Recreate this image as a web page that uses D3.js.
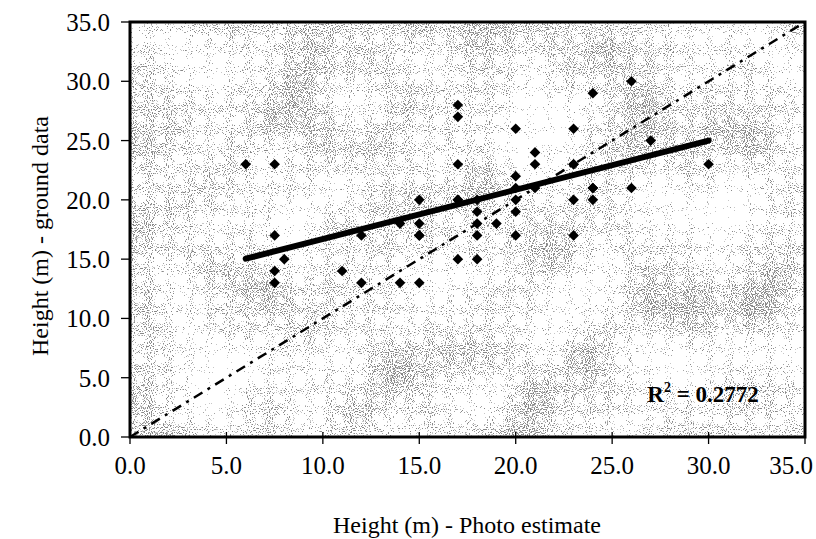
<!DOCTYPE html>
<html><head><meta charset="utf-8">
<script src="https://cdn.jsdelivr.net/npm/d3@7"></script>
<style>body{margin:0;background:#fff;}</style>
</head><body>
<svg id="c" width="816" height="539" font-family="'Liberation Serif', 'Times New Roman', 'DejaVu Serif', serif"></svg>
<script>
const xTicks = [0,5,10,15,20,25,30,35];
const yTicks = [0,5,10,15,20,25,30,35];
const photoEstimate = [6,7.5,7.5,7.5,7.5,8,11,12,12,14,14,15,15,15,15,15,17,17,17,17,17,17,18,18,18,18,18,19,20,20,20,20,20,20,21,21,21,23,23,23,23,23,24,24,24,24,26,26,27,30];
const groundData    = [23,23,17,14,13,15,14,17,13,18,13,20,18,17,13,17,28,27,23,20,15,20,20,19,17,15,18,18,26,22,21,19,17,20,24,23,21,26,23,20,17,23,29,21,20,21,30,21,25,23];
const trendSlope = 0.415;
const trendIntercept = 12.55;
const trendRange = [6,30];
const r2Label = "0.2772";

const svg = d3.select("#c");
const L=130,R=805,T=22,B=437;
const x = d3.scaleLinear().domain([0,35]).range([L,R]);
const y = d3.scaleLinear().domain([0,35]).range([B,T]);

// stipple background
const defs = svg.append("defs");
const f = defs.append("filter").attr("id","stip").attr("x",0).attr("y",0).attr("width",1).attr("height",1)
  .attr("color-interpolation-filters","sRGB");
f.append("feTurbulence").attr("type","fractalNoise").attr("baseFrequency","0.95").attr("numOctaves",1).attr("seed",3).attr("result","f0");
f.append("feColorMatrix").attr("in","f0").attr("type","matrix").attr("values","1 0 0 0 0  1 0 0 0 0  1 0 0 0 0  0 0 0 0 1").attr("result","fine");
f.append("feTurbulence").attr("type","fractalNoise").attr("baseFrequency","0.012").attr("numOctaves",2).attr("seed",11).attr("result","c0");
f.append("feColorMatrix").attr("in","c0").attr("type","matrix").attr("values","1 0 0 0 0  1 0 0 0 0  1 0 0 0 0  0 0 0 0 1").attr("result","coarse");
f.append("feComposite").attr("in","fine").attr("in2","coarse").attr("operator","arithmetic").attr("k1",0).attr("k2",1).attr("k3",0.35).attr("k4",-0.175).attr("result","mix");
f.append("feColorMatrix").attr("in","mix").attr("type","matrix")
 .attr("values","0 0 0 0 0.45  0 0 0 0 0.45  0 0 0 0 0.45  8 0 0 0 -4.6").attr("result","a");
const ct = f.append("feComponentTransfer").attr("in","a").attr("result","dots");
ct.append("feFuncA").attr("type","discrete").attr("tableValues","0 0.4 0.65 0.85");
f.append("feFlood").attr("flood-color","#fff").attr("result","w");
f.append("feMerge").call(m=>{m.append("feMergeNode").attr("in","w");m.append("feMergeNode").attr("in","dots");});

svg.append("rect").attr("x",L).attr("y",T).attr("width",R-L).attr("height",B-T).attr("filter","url(#stip)");

// ticks
const g = svg.append("g");
g.selectAll(".xt").data(xTicks).join("line").attr("x1",d=>x(d)).attr("x2",d=>x(d)).attr("y1",B-5).attr("y2",B+7).attr("stroke","#000").attr("stroke-width",1.3);
g.selectAll(".yt").data(yTicks).join("line").attr("x1",L-9).attr("x2",L).attr("y1",d=>y(d)).attr("y2",d=>y(d)).attr("stroke","#000").attr("stroke-width",1.3);
g.selectAll(".xl").data(xTicks).join("text")
 .attr("x",(d,i)=>i===xTicks.length-1 ? 813 : x(d)).attr("y",B+37)
 .attr("text-anchor",(d,i)=>i===xTicks.length-1 ? "end" : "middle").attr("font-size",25).text(d=>d.toFixed(1));
g.selectAll(".yl").data(yTicks).join("text").attr("x",L-20).attr("y",d=>y(d)+9).attr("text-anchor","end").attr("font-size",25).text(d=>d.toFixed(1));

// 1:1 line
svg.append("line").attr("x1",x(0)).attr("y1",y(0)).attr("x2",x(35)).attr("y2",y(35))
 .attr("stroke","#000").attr("stroke-width",2.5).attr("stroke-dasharray","10,6,3,6");

// trend line
svg.append("line").attr("x1",x(trendRange[0])).attr("y1",y(trendSlope*trendRange[0]+trendIntercept))
 .attr("x2",x(trendRange[1])).attr("y2",y(trendSlope*trendRange[1]+trendIntercept))
 .attr("stroke","#000").attr("stroke-width",6).attr("stroke-linecap","round");

// points
const sym = d3.symbol().type(d3.symbolDiamond2).size(72);
svg.selectAll(".p").data(photoEstimate.map((v,i)=>[v,groundData[i]])).join("path")
 .attr("d",sym).attr("transform",d=>`translate(${x(d[0])},${y(d[1])})`).attr("fill","#000");

// frame
svg.append("rect").attr("x",L).attr("y",T).attr("width",R-L).attr("height",B-T).attr("fill","none").attr("stroke","#000").attr("stroke-width",3);

// R2
const rt = svg.append("text").attr("x",703).attr("y",402).attr("text-anchor","middle").attr("font-size",23).attr("font-weight","bold");
rt.append("tspan").text("R");
rt.append("tspan").attr("dy",-10).attr("font-size",14).text("2");
rt.append("tspan").attr("dy",10).text(" = "+r2Label);

// axis titles
svg.append("text").attr("x",467).attr("y",533).attr("text-anchor","middle").attr("font-size",24).text("Height (m) - Photo estimate");
svg.append("text").attr("transform",`translate(48,236) rotate(-90)`).attr("text-anchor","middle").attr("font-size",24).text("Height (m) - ground data");
</script>
</body></html>
